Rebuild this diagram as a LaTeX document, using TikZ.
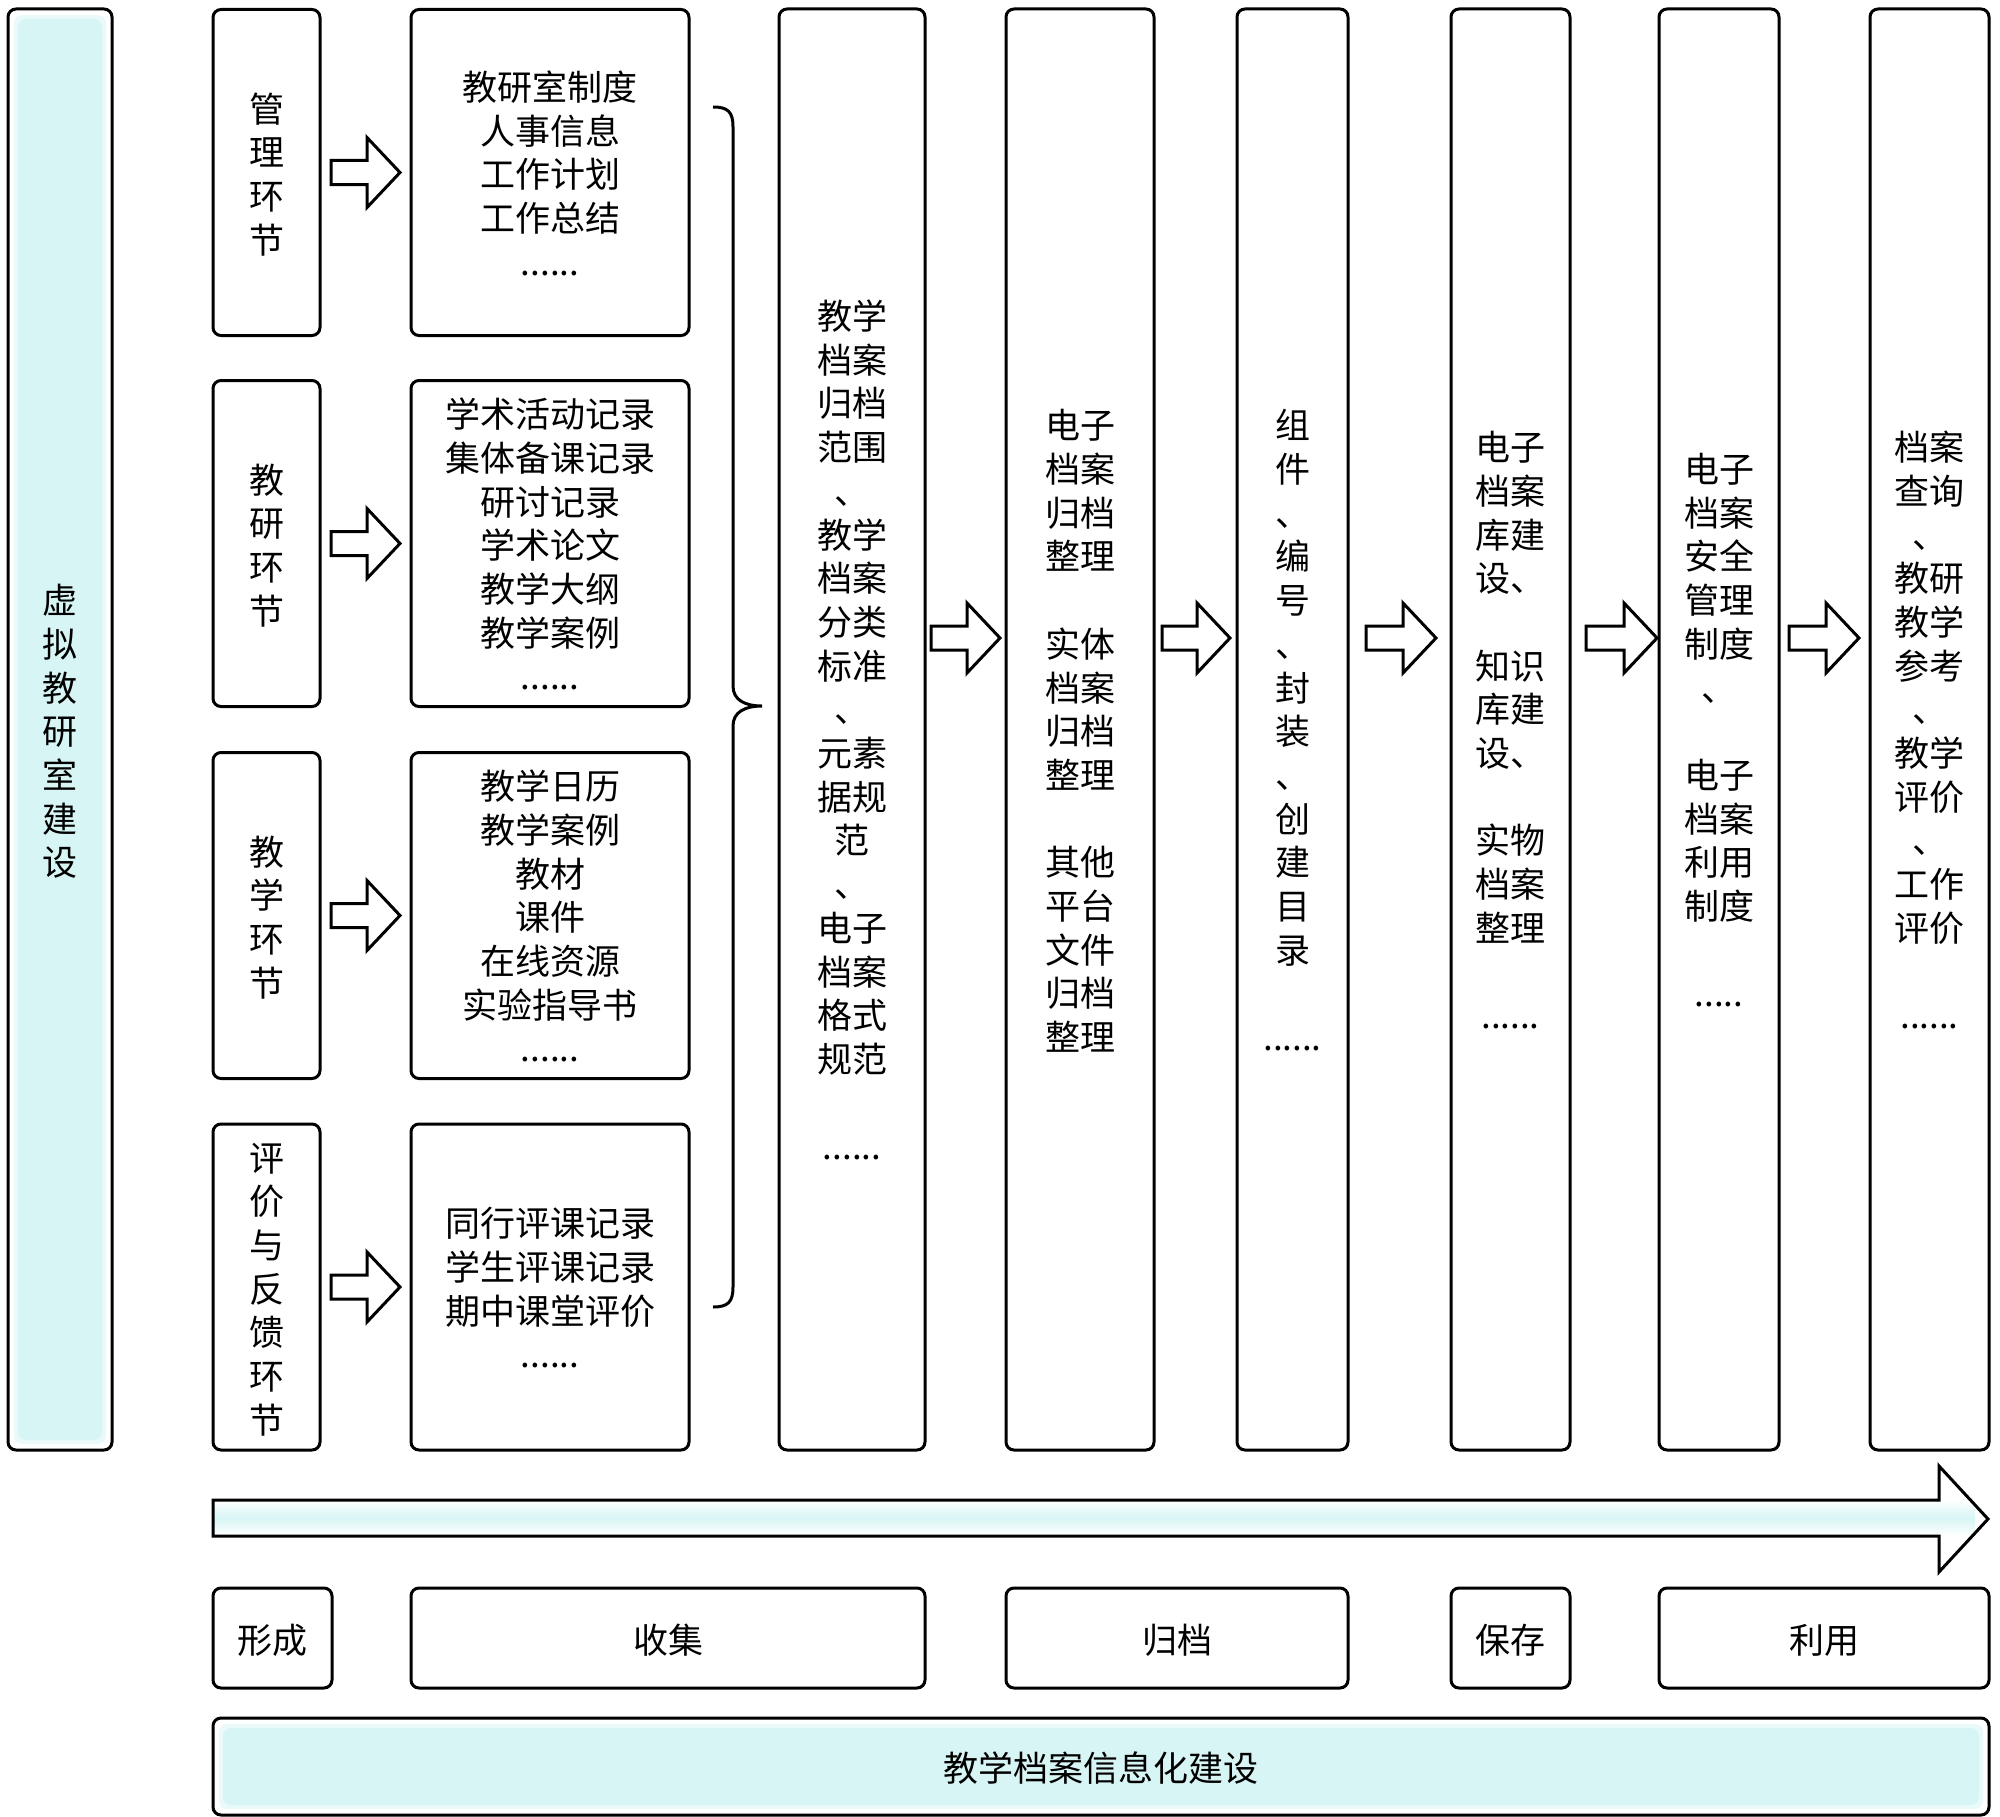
\documentclass[tikz,border=0pt]{standalone}
\usepackage{fontspec}
\newfontfamily\cjk{Noto Sans CJK SC}
\usetikzlibrary{calc}
\definecolor{cyanfill}{RGB}{216,245,245}
\newcommand\ls{\rule[-4.2pt]{0pt}{38.8pt}}
\newcommand\blank{\\[43.7pt]}
\tikzset{
  box/.style={draw=black, line width=3pt, rounded corners=8pt, fill=white,
    inner sep=0pt, align=center, font=\cjk\fontsize{35}{43.7}\selectfont},
  glow/.style={path picture={
    \fill[cyanfill!55] ([shift={(6pt,6pt)}]path picture bounding box.south west)
       rectangle ([shift={(-6pt,-6pt)}]path picture bounding box.north east);
    \fill[cyanfill] ([shift={(10pt,10pt)}]path picture bounding box.south west)
       rectangle ([shift={(-10pt,-10pt)}]path picture bounding box.north east);
  }},
  barrow/.style={draw=black, line width=3pt, fill=white, line join=miter},
  bracestyle/.style={draw=black, line width=3pt},
}
\newcommand\blockarr[3]{%
  \draw[barrow] ({#1},{#3-12}) -- ({#2-33},{#3-12}) -- ({#2-33},{#3-35}) -- ({#2},{#3})
    -- ({#2-33},{#3+35}) -- ({#2-33},{#3+12}) -- ({#1},{#3+12}) -- cycle;}
\begin{document}
\begin{tikzpicture}[x=1pt,y=-1pt]
\useasboundingbox (0,0) rectangle (2000,1817);

% left column
\node[box, glow, minimum width=104pt, minimum height=1441pt] (vr) at (60,729.5)
  {\ls 虚\\拟\\教\\研\\室\\建\\设\ls};

% stage column 1
\node[box, minimum width=107pt, minimum height=326pt] (g1) at (266.5,172.5) {\ls 管\\理\\环\\节\ls};
\node[box, minimum width=107pt, minimum height=326pt] (g2) at (266.5,543.5) {\ls 教\\研\\环\\节\ls};
\node[box, minimum width=107pt, minimum height=326pt] (g3) at (266.5,915.5) {\ls 教\\学\\环\\节\ls};
\node[box, minimum width=107pt, minimum height=326pt] (g4) at (266.5,1287) {\ls 评\\价\\与\\反\\馈\\环\\节\ls};

% content column 2
\node[box, minimum width=278pt, minimum height=326pt] (c1) at (550,172.5)
  {\ls 教研室制度\\人事信息\\工作计划\\工作总结\\......\ls};
\node[box, minimum width=278pt, minimum height=326pt] (c2) at (550,543.5)
  {\ls 学术活动记录\\集体备课记录\\研讨记录\\学术论文\\教学大纲\\教学案例\\......\ls};
\node[box, minimum width=278pt, minimum height=326pt] (c3) at (550,915.5)
  {\ls 教学日历\\教学案例\\教材\\课件\\在线资源\\实验指导书\\......\ls};
\node[box, minimum width=278pt, minimum height=326pt] (c4) at (550,1287)
  {\ls 同行评课记录\\学生评课记录\\期中课堂评价\\......\ls};

% arrows col1 -> col2
\blockarr{331}{400}{172.5}
\blockarr{331}{400}{543.5}
\blockarr{331}{400}{915.5}
\blockarr{331}{400}{1287}

% brace
\draw[bracestyle] (713,107) .. controls (728,107) and (733,112) .. (733,127)
  -- (733,686) .. controls (733,700) and (745,706) .. (762,706)
  .. controls (745,706) and (733,712) .. (733,726)
  -- (733,1287) .. controls (733,1302) and (728,1307) .. (713,1307);

% tall columns
\node[box, minimum width=146pt, minimum height=1441pt] (k3) at (852,729.5)
  {\ls 教学\\档案\\归档\\范围\\、\\教学\\档案\\分类\\标准\\、\\元素\\据规\\范\\、\\电子\\档案\\格式\\规范\blank......\ls};
\node[box, minimum width=148pt, minimum height=1441pt] (k4) at (1080,729.5)
  {\ls 电子\\档案\\归档\\整理\blank 实体\\档案\\归档\\整理\blank 其他\\平台\\文件\\归档\\整理\ls};
\node[box, minimum width=111pt, minimum height=1441pt] (k5) at (1292.5,729.5)
  {\ls 组\\件\\、\\编\\号\\、\\封\\装\\、\\创\\建\\目\\录\blank......\ls};
\node[box, minimum width=119pt, minimum height=1441pt] (k6) at (1510.5,729.5)
  {\ls 电子\\档案\\库建\\设、\blank 知识\\库建\\设、\blank 实物\\档案\\整理\blank......\ls};
\node[box, minimum width=120pt, minimum height=1441pt] (k7) at (1719,729.5)
  {\ls 电子\\档案\\安全\\管理\\制度\\、\blank 电子\\档案\\利用\\制度\blank.....\ls};
\node[box, minimum width=119pt, minimum height=1441pt] (k8) at (1929.5,729.5)
  {\ls 档案\\查询\\、\\教研\\教学\\参考\\、\\教学\\评价\\、\\工作\\评价\blank......\ls};

% arrows between tall columns
\blockarr{931}{1000}{638}
\blockarr{1162}{1230}{638}
\blockarr{1366}{1436}{638}
\blockarr{1586}{1657}{638}
\blockarr{1789}{1859}{638}

% big arrow
\begin{scope}
  \clip (213,1500) -- (1939,1500) -- (1939,1466) -- (1988,1519) -- (1939,1572) -- (1939,1536) -- (213,1536) -- cycle;
  \fill[white] (213,1460) rectangle (1990,1575);
  \shade[top color=white, bottom color=white, middle color=cyanfill] (213,1500) rectangle (1975,1536);
\end{scope}
\draw[barrow, fill=none] (213,1500) -- (1939,1500) -- (1939,1466) -- (1988,1519) -- (1939,1572) -- (1939,1536) -- (213,1536) -- cycle;

% stage labels
\node[box, minimum width=119pt, minimum height=100pt] (s1) at (272.5,1638) {\ls 形成\ls};
\node[box, minimum width=514pt, minimum height=100pt] (s2) at (668,1638) {\ls 收集\ls};
\node[box, minimum width=342pt, minimum height=100pt] (s3) at (1177,1638) {\ls 归档\ls};
\node[box, minimum width=119pt, minimum height=100pt] (s4) at (1510.5,1638) {\ls 保存\ls};
\node[box, minimum width=330pt, minimum height=100pt] (s5) at (1824,1638) {\ls 利用\ls};

% bottom bar
\node[box, glow, minimum width=1776pt, minimum height=97pt] (bar) at (1101,1766.5) {\ls 教学档案信息化建设\ls};
\end{tikzpicture}
\end{document}
